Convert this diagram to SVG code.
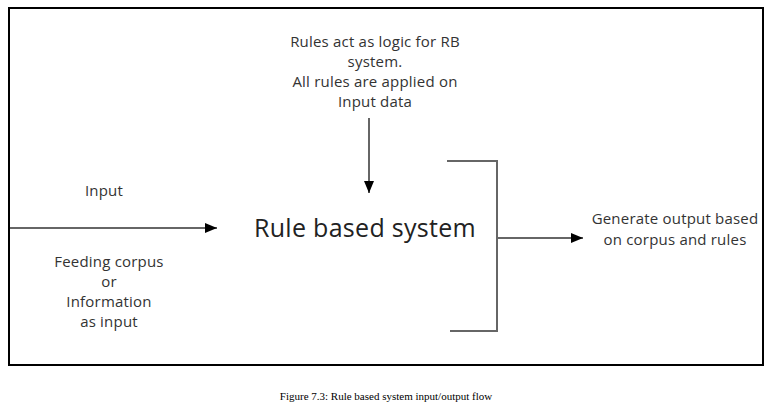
<svg xmlns="http://www.w3.org/2000/svg" width="776" height="408" viewBox="0 0 776 408">
<style>
.t{font-family:"Open Sans","Noto Sans",sans-serif;font-size:15px;letter-spacing:0.2px;fill:#333;text-anchor:middle}
.big{font-size:25px;letter-spacing:0.3px;fill:#222}
.ln{stroke:#666;stroke-width:2;fill:none}
.cap{font-family:"Liberation Serif","Times New Roman",serif;font-size:11px;fill:#000;text-anchor:middle}
</style>
<defs>
<marker id="ah" markerWidth="12" markerHeight="10" refX="12" refY="5" orient="auto" markerUnits="userSpaceOnUse">
<path d="M0,0 L12,5 L0,10 Z" fill="#000"/>
</marker>
</defs>
<rect x="9" y="8" width="754" height="357" fill="#fff" stroke="#000" stroke-width="2"/>
<g id="rules-note">
<text class="t" x="375" y="47">Rules act as logic for RB</text>
<text class="t" x="375" y="67">system.</text>
<text class="t" x="375" y="87">All rules are applied on</text>
<text class="t" x="375" y="107">Input data</text>
</g>
<g id="input-label">
<text class="t" x="104" y="196">Input</text>
</g>
<g id="input-desc">
<text class="t" x="109" y="267">Feeding corpus</text>
<text class="t" x="109" y="287">or</text>
<text class="t" x="109" y="307">Information</text>
<text class="t" x="109" y="327">as input</text>
</g>
<g id="rule-system">
<text class="t big" x="365" y="237">Rule based system</text>
</g>
<g id="output">
<text class="t" x="675" y="224">Generate output based</text>
<text class="t" x="675" y="245">on corpus and rules</text>
</g>
<g id="connectors">
<line class="ln" x1="10" y1="228" x2="217" y2="228" marker-end="url(#ah)"/>
<line class="ln" x1="369" y1="118" x2="369" y2="193" marker-end="url(#ah)"/>
<polyline class="ln" points="447,161 497,161 497,331 450,331"/>
<line class="ln" x1="497" y1="238" x2="583" y2="238" marker-end="url(#ah)"/>
</g>
<text class="cap" x="386" y="400">Figure 7.3: Rule based system input/output flow</text>
</svg>
